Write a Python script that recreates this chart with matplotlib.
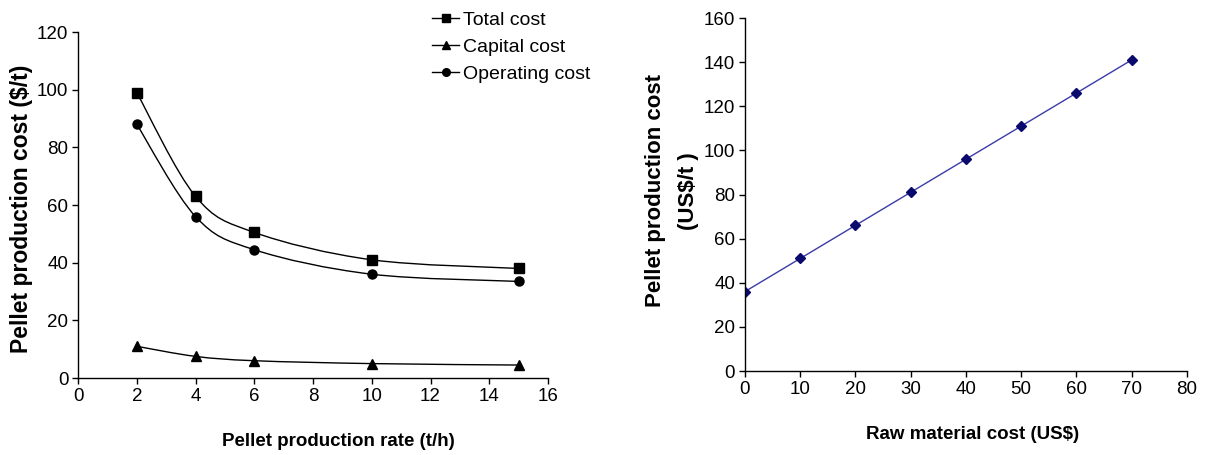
import numpy as np
import matplotlib
matplotlib.use("Agg")
import matplotlib.pyplot as plt
from matplotlib.path import Path
from matplotlib.patches import PathPatch
from matplotlib.lines import Line2D

plt.rcParams['font.family'] = ['Liberation Sans Narrow', 'Liberation Sans', 'DejaVu Sans']

# left panel data
rate = [2, 4, 6, 10, 15]
total_cost = [99, 63, 50.5, 41, 38]
capital_cost = [11, 7.5, 6, 5, 4.5]
operating_cost = [88, 56, 44.5, 36, 33.5]

# right panel data
raw_cost = [0, 10, 20, 30, 40, 50, 60, 70]
prod_cost = [36, 51, 66, 81, 96, 111, 126, 141]

LABEL_FONT = ['Liberation Sans', 'DejaVu Sans']


def smooth_path(x, y):
    # catmull-rom through the points, turned into cubic bezier segments
    pts = np.column_stack([x, y]).astype(float)
    n = len(pts)
    verts = [pts[0]]
    codes = [Path.MOVETO]
    for i in range(n - 1):
        p0 = pts[i - 1] if i > 0 else pts[i]
        p1 = pts[i]
        p2 = pts[i + 1]
        p3 = pts[i + 2] if i + 2 < n else pts[i + 1]
        c1 = p1 + (p2 - p0) / 6
        c2 = p2 - (p3 - p1) / 6
        verts += [c1, c2, p2]
        codes += [Path.CURVE4] * 3
    return Path(verts, codes)


fig = plt.figure(figsize=(12.06, 4.55), dpi=100)

ax1 = fig.add_axes([0.0647, 0.1692, 0.3897, 0.7604])
series = [(total_cost, 's', 'Total cost'),
          (capital_cost, '^', 'Capital cost'),
          (operating_cost, 'o', 'Operating cost')]
handles = []
for vals, mk, lab in series:
    ax1.add_patch(PathPatch(smooth_path(rate, vals), fill=False, edgecolor='black', lw=1.0))
    ax1.plot(rate, vals, linestyle='none', marker=mk, color='black', ms=6.5)
    handles.append(Line2D([], [], color='black', lw=1.0, marker=mk, ms=5.5, label=lab))

ax1.set_xlim(0, 16)
ax1.set_ylim(0, 120)
ax1.set_xticks(range(0, 17, 2))
ax1.set_yticks(range(0, 121, 20))
ax1.set_xlabel('Pellet production rate (t/h)', family=LABEL_FONT, fontweight='bold', fontsize=13.5)
ax1.xaxis.set_label_coords(0.553, -0.159)
ax1.set_ylabel('Pellet production cost ($/t)', family=LABEL_FONT, fontweight='bold', fontsize=16.5)
ax1.yaxis.set_label_coords(-0.095, 0.49)
fig.legend(handles=handles, loc='upper left', bbox_to_anchor=(432 / 1206, 1 - 11 / 455), frameon=False,
           fontsize=14, handlelength=1.4, handletextpad=0.2, labelspacing=0.5,
           borderpad=0, borderaxespad=0)

ax2 = fig.add_axes([0.6177, 0.1846, 0.3665, 0.7758])
ax2.plot(raw_cost, prod_cost, color='#3b3ba8', lw=1.0, marker='D', ms=5,
         markerfacecolor='#0a0a6e', markeredgecolor='#0a0a6e')
ax2.set_xlim(0, 80)
ax2.set_ylim(0, 160)
ax2.set_xticks(range(0, 81, 10))
ax2.set_yticks(range(0, 161, 20))
ax2.set_xlabel('Raw material cost (US$)', family=LABEL_FONT, fontweight='bold', fontsize=13.5)
ax2.xaxis.set_label_coords(0.516, -0.156)
ax2.set_ylabel('Pellet production cost\n(US$/t )', family=LABEL_FONT, fontweight='bold', fontsize=16,
               linespacing=1.75)
ax2.yaxis.set_label_coords(-0.103, 0.51)

for ax in (ax1, ax2):
    for s in ('top', 'right'):
        ax.spines[s].set_visible(False)
    ax.spines['left'].set_linewidth(1.0)
    ax.spines['bottom'].set_linewidth(1.0)
    ax.tick_params(direction='out', length=4, width=1.0, labelsize=13.5, pad=3)

fig.savefig('out.png', dpi=100)
